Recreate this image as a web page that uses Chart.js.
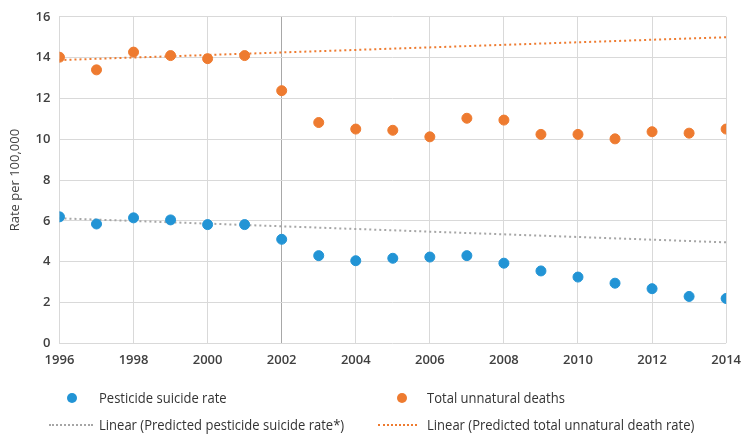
<!DOCTYPE html>
<html>
<head>
<meta charset="utf-8">
<script src="https://cdn.jsdelivr.net/npm/chart.js@4"></script>
<style>
  body { margin: 0; background: #fff; font-family: "Open Sans", sans-serif; }
  #wrap { position: relative; width: 750px; height: 377px; }
  #legend { position: absolute; left: 0; top: 0; width: 750px; height: 436px; pointer-events: none; }
  .txt { position: absolute; font-family: "Open Sans", sans-serif; font-size: 14px; line-height: 20px; color: #333; white-space: nowrap; transform: scaleX(0.93); transform-origin: left center; }
  .dot { position: absolute; width: 10px; height: 10px; border-radius: 50%; }
  .dash { position: absolute; height: 0; border-top: 2px dotted; }
</style>
</head>
<body>
<div id="wrap"><canvas id="myChart"></canvas></div>
<div id="legend"></div>
<script>
var years = [1996, 1997, 1998, 1999, 2000, 2001, 2002, 2003, 2004, 2005,
             2006, 2007, 2008, 2009, 2010, 2011, 2012, 2013, 2014];
var pesticideRate = [6.2, 5.85, 6.15, 6.05, 5.82, 5.82, 5.1, 4.3, 4.05, 4.17,
                     4.23, 4.3, 3.93, 3.55, 3.25, 2.95, 2.68, 2.3, 2.2];
var unnaturalDeaths = [14.02, 13.4, 14.27, 14.1, 13.95, 14.1, 12.38, 10.82, 10.5, 10.44,
                       10.12, 11.03, 10.94, 10.24, 10.24, 10.02, 10.37, 10.3, 10.5];
// trend line end points (1996, 2014)
var trendYears = [1996, 2014];
var pesticideTrend = [6.13, 4.95];
var unnaturalTrend = [13.88, 15.0];

var blue = '#2294d5';
var orange = '#ee7b30';
var grey = '#a6a6a6';

function pts(xs, ys) {
    return xs.map(function (x, i) { return { x: x, y: ys[i] }; });
}

var ctx = document.getElementById('myChart');
var chart = new Chart(ctx, {
    type: 'scatter',
    data: {
        datasets: [
            {
                label: 'Pesticide suicide rate',
                data: pts(years, pesticideRate),
                backgroundColor: blue,
                borderColor: blue,
                pointRadius: 5,
                order: 1
            },
            {
                label: 'Total unnatural deaths',
                data: pts(years, unnaturalDeaths),
                backgroundColor: orange,
                borderColor: orange,
                pointRadius: 5,
                order: 1
            },
            {
                label: 'Linear (Predicted pesticide suicide rate*)',
                type: 'line',
                data: pts(trendYears, pesticideTrend),
                borderColor: grey,
                borderWidth: 2,
                borderDash: [2, 3],
                pointRadius: 0,
                fill: false,
                order: 2
            },
            {
                label: 'Linear (Predicted total unnatural death rate)',
                type: 'line',
                data: pts(trendYears, unnaturalTrend),
                borderColor: orange,
                borderWidth: 2,
                borderDash: [2, 3],
                pointRadius: 0,
                fill: false,
                order: 2
            }
        ]
    },
    options: {
        responsive: true,
        maintainAspectRatio: false,
        animation: false,
        layout: { padding: { top: 8, right: 16, left: 3 } },
        plugins: {
            legend: { display: false },
            tooltip: { enabled: false }
        },
        scales: {
            x: {
                type: 'linear',
                min: 1996,
                max: 2014,
                ticks: {
                    stepSize: 2,
                    padding: 9,
                    color: '#404040',
                    font: { family: 'Open Sans', size: 13, weight: '600' },
                    callback: function (v) { return String(v); }
                },
                grid: {
                    color: function (c) { return c.tick && c.tick.value === 2002 ? '#a8a8a8' : '#d9d9d9'; },
                    drawTicks: false
                },
                border: { display: false }
            },
            y: {
                min: 0,
                max: 16,
                ticks: {
                    stepSize: 2,
                    padding: 9,
                    color: '#404040',
                    font: { family: 'Open Sans', size: 13, weight: '600' }
                },
                grid: { color: '#d9d9d9', drawTicks: false },
                border: { display: false },
                title: {
                    display: true,
                    text: 'Rate per 100,000',
                    color: '#404040',
                    font: { family: 'Open Sans', size: 13 }
                }
            }
        }
    }
});

// two-column legend under the chart, built from the datasets
// [marker left, marker right, text left, row centre y]
var legend = document.getElementById('legend');
var spots = [[67, 77, 99, 398], [397, 407, 427, 398], [49, 93, 99, 425], [378, 417, 427, 425]];
chart.data.datasets.forEach(function (ds, i) {
    var s = spots[i];
    var mark = document.createElement('div');
    if (ds.type === 'line') {
        mark.className = 'dash';
        mark.style.borderTopColor = ds.borderColor;
        mark.style.top = (s[3] - 1) + 'px';
    } else {
        mark.className = 'dot';
        mark.style.background = ds.backgroundColor;
        mark.style.top = (s[3] - 5) + 'px';
    }
    mark.style.left = s[0] + 'px';
    mark.style.width = (s[1] - s[0]) + 'px';
    var txt = document.createElement('div');
    txt.className = 'txt';
    txt.style.left = s[2] + 'px';
    txt.style.top = (s[3] - 10) + 'px';
    txt.textContent = ds.label;
    legend.appendChild(mark);
    legend.appendChild(txt);
});
</script>
</body>
</html>
